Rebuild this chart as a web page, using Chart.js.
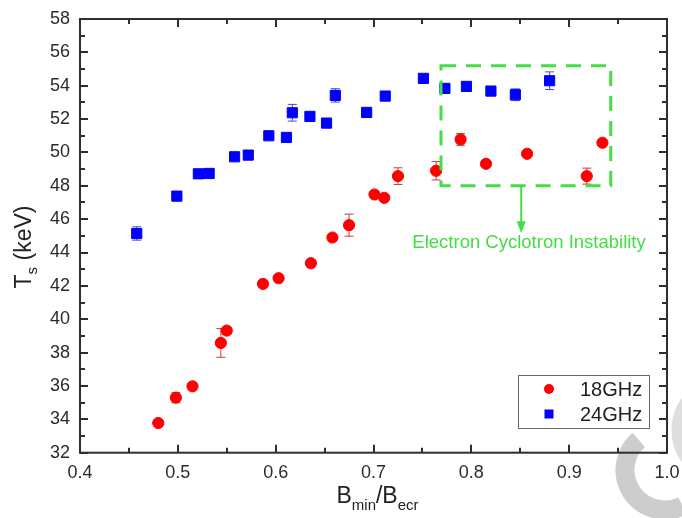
<!DOCTYPE html>
<html>
<head>
<meta charset="utf-8">
<script src="https://cdn.jsdelivr.net/npm/chart.js@4.4.0/dist/chart.umd.min.js"></script>
<style>
  html, body { margin: 0; padding: 0; background: #ffffff; }
  #wrap { width: 682px; height: 518px; }
</style>
</head>
<body>
<div id="wrap"><canvas id="ts_chart" width="682" height="518"></canvas></div>
<script>
// 18GHz series (red circles)
const red_x = [0.480, 0.498, 0.515, 0.544, 0.550, 0.587, 0.603, 0.636, 0.658, 0.675, 0.701, 0.711, 0.725, 0.764, 0.789, 0.815, 0.857, 0.918, 0.934];
const red_y = [33.78, 35.30, 35.98, 38.58, 39.32, 42.12, 42.46, 43.36, 44.90, 45.64, 47.48, 47.28, 48.58, 48.90, 50.78, 49.32, 49.92, 48.58, 50.58];
const red_err = [0.10, 0.30, 0.20, 0.86, 0.22, 0.10, 0.10, 0.10, 0.10, 0.66, 0.15, 0.10, 0.50, 0.55, 0.35, 0.10, 0.10, 0.48, 0.10];

// 24GHz series (blue squares)
const blue_x = [0.458, 0.499, 0.521, 0.532, 0.558, 0.572, 0.593, 0.611, 0.617, 0.635, 0.652, 0.661, 0.693, 0.712, 0.751, 0.773, 0.795, 0.820, 0.845, 0.880];
const blue_y = [45.14, 47.38, 48.72, 48.74, 49.74, 49.84, 51.00, 50.90, 52.38, 52.16, 51.76, 53.42, 52.40, 53.38, 54.44, 53.84, 53.96, 53.68, 53.46, 54.30];
const blue_err = [0.40, 0.10, 0.10, 0.10, 0.20, 0.15, 0.10, 0.10, 0.50, 0.10, 0.10, 0.40, 0.10, 0.10, 0.20, 0.10, 0.10, 0.15, 0.35, 0.53];

const series_labels = ['18GHz', '24GHz'];

// axis ranges
const x_range = [0.4, 1.0];
const x_step = 0.1;
const y_range = [32, 58];
const y_step = 2;

// annotation in data units: box [x0, x1, y0, y1], arrow [x, y_from, y_to], text [x, y]
const box_limits = [0.769, 0.9425, 48.0, 55.2];
const arrow_line = [0.851, 48.0, 45.15];
const note_pos = [0.859, 44.3];
const note_text = 'Electron Cyclotron Instability';

const palette = {
    red: '#ff0000',
    blue: '#0000ff',
    red_bar: '#cc3a3a',
    blue_bar: '#4a4ac4',
    green: '#44dd44',
    frame: '#2e2e2e',
    text: '#2b2b2b',
};

const font_name = '"Liberation Sans", Arial, sans-serif';

function make_points(xs, ys) {
    return xs.map(function (x, idx) {
        return { x: x, y: ys[idx] };
    });
}

const error_plugin = {
    id: 'error_bars',
    beforeDatasetsDraw(chart) {
        const ctx = chart.ctx;
        const xs = chart.scales.x;
        const ys = chart.scales.y;
        const sets = [
            [red_x, red_y, red_err, palette.red_bar],
            [blue_x, blue_y, blue_err, palette.blue_bar],
        ];
        ctx.save();
        ctx.lineWidth = 1;
        sets.forEach(function (s) {
            ctx.strokeStyle = s[3];
            s[0].forEach(function (x, idx) {
                const px = xs.getPixelForValue(x);
                const top = ys.getPixelForValue(s[1][idx] + s[2][idx]);
                const bot = ys.getPixelForValue(s[1][idx] - s[2][idx]);
                ctx.beginPath();
                ctx.moveTo(px, top);
                ctx.lineTo(px, bot);
                ctx.moveTo(px - 4.5, top);
                ctx.lineTo(px + 4.5, top);
                ctx.moveTo(px - 4.5, bot);
                ctx.lineTo(px + 4.5, bot);
                ctx.stroke();
            });
        });
        ctx.restore();
    },
};

const frame_plugin = {
    id: 'frame_ticks',
    beforeDraw(chart) {
        // faint watermark swoosh in the corner
        const ctx = chart.ctx;
        ctx.save();
        ctx.strokeStyle = '#cdcdcd';
        ctx.lineWidth = 19;
        ctx.beginPath();
        ctx.arc(665, 470, 40, 64 * Math.PI / 180, 229 * Math.PI / 180);
        ctx.stroke();
        ctx.strokeStyle = '#dedede';
        ctx.lineWidth = 11;
        ctx.beginPath();
        ctx.arc(727, 430, 50, 140 * Math.PI / 180, 225 * Math.PI / 180);
        ctx.stroke();
        ctx.restore();
    },
    afterDatasetsDraw(chart) {
        const ctx = chart.ctx;
        const area = chart.chartArea;
        const xs = chart.scales.x;
        const ys = chart.scales.y;
        ctx.save();
        ctx.strokeStyle = palette.frame;
        ctx.lineWidth = 2;
        ctx.strokeRect(area.left, area.top, area.right - area.left, area.bottom - area.top);

        ctx.beginPath();
        for (let v = x_range[0]; v <= x_range[1] + 1e-9; v += x_step / 2) {
            const major = Math.abs(Math.round(v / x_step) * x_step - v) < 1e-6;
            const len = major ? 8 : 5;
            const px = Math.round(xs.getPixelForValue(v));
            ctx.moveTo(px, area.bottom);
            ctx.lineTo(px, area.bottom - len);
            ctx.moveTo(px, area.top);
            ctx.lineTo(px, area.top + len);
        }
        for (let v = y_range[0]; v <= y_range[1] + 1e-9; v += y_step / 2) {
            const len = (v % y_step === 0) ? 8 : 5;
            const py = Math.round(ys.getPixelForValue(v));
            ctx.moveTo(area.left, py);
            ctx.lineTo(area.left + len, py);
            ctx.moveTo(area.right, py);
            ctx.lineTo(area.right - len, py);
        }
        ctx.stroke();
        ctx.restore();
    },
    afterDraw(chart) {
        const ctx = chart.ctx;
        const area = chart.chartArea;
        const xs = chart.scales.x;
        const ys = chart.scales.y;

        // green dashed box, arrow and note
        ctx.save();
        ctx.strokeStyle = palette.green;
        ctx.fillStyle = palette.green;
        ctx.lineWidth = 3;
        ctx.setLineDash([15, 10]);
        const bx0 = xs.getPixelForValue(box_limits[0]);
        const bx1 = xs.getPixelForValue(box_limits[1]);
        const by0 = ys.getPixelForValue(box_limits[3]);
        const by1 = ys.getPixelForValue(box_limits[2]);
        ctx.strokeRect(bx0, by0, bx1 - bx0, by1 - by0);
        ctx.setLineDash([]);
        const ax = xs.getPixelForValue(arrow_line[0]);
        const ay0 = ys.getPixelForValue(arrow_line[1]);
        const ay1 = ys.getPixelForValue(arrow_line[2]);
        ctx.lineWidth = 2;
        ctx.beginPath();
        ctx.moveTo(ax, ay0);
        ctx.lineTo(ax, ay1 - 10);
        ctx.stroke();
        ctx.beginPath();
        ctx.moveTo(ax - 4.5, ay1 - 12);
        ctx.lineTo(ax + 4.5, ay1 - 12);
        ctx.lineTo(ax, ay1);
        ctx.closePath();
        ctx.fill();
        ctx.font = '18.5px ' + font_name;
        ctx.textAlign = 'center';
        ctx.textBaseline = 'alphabetic';
        ctx.fillText(note_text, xs.getPixelForValue(note_pos[0]), ys.getPixelForValue(note_pos[1]));
        ctx.restore();

        // legend box
        ctx.save();
        ctx.strokeStyle = '#666666';
        ctx.lineWidth = 1;
        ctx.strokeRect(518.5, 375.5, 131, 53);
        const rows = [389, 414];
        ctx.font = '20px ' + font_name;
        ctx.textAlign = 'left';
        ctx.textBaseline = 'middle';
        chart.data.datasets.forEach(function (ds, idx) {
            ctx.fillStyle = ds.backgroundColor;
            if (ds.pointStyle === 'rect') {
                ctx.fillRect(549 - 4.5, rows[idx] - 4.5, 9, 9);
            } else {
                ctx.beginPath();
                ctx.arc(549, rows[idx], 5, 0, Math.PI * 2);
                ctx.fill();
            }
            ctx.fillStyle = '#222222';
            ctx.fillText(series_labels[idx], 580, rows[idx] + 1);
        });
        ctx.restore();

        // axis titles with subscripts
        ctx.save();
        ctx.fillStyle = '#222222';
        ctx.textBaseline = 'alphabetic';
        ctx.textAlign = 'left';
        const main_font = '23px ' + font_name;
        const sub_font = '15px ' + font_name;

        ctx.translate(31, 247);
        ctx.rotate(-Math.PI / 2);
        ctx.font = main_font;
        const w_t = ctx.measureText('T').width;
        const w_rest = ctx.measureText(' (keV)').width;
        ctx.font = sub_font;
        const w_s = ctx.measureText('s').width;
        let cx = -(w_t + w_s + w_rest) / 2;
        ctx.font = main_font;
        ctx.fillText('T', cx, 0);
        cx += w_t;
        ctx.font = sub_font;
        ctx.fillText('s', cx, 6);
        cx += w_s;
        ctx.font = main_font;
        ctx.fillText(' (keV)', cx, 0);
        ctx.restore();

        ctx.save();
        ctx.fillStyle = '#222222';
        ctx.textBaseline = 'alphabetic';
        ctx.textAlign = 'left';
        const parts = [['B', main_font, 0], ['min', sub_font, 7], ['/B', main_font, 0], ['ecr', sub_font, 7]];
        let total = 0;
        parts.forEach(function (p) {
            ctx.font = p[1];
            total += ctx.measureText(p[0]).width;
        });
        let tx = (area.left + area.right) / 2 - total / 2 + 4;
        parts.forEach(function (p) {
            ctx.font = p[1];
            ctx.fillText(p[0], tx, 503 + p[2]);
            tx += ctx.measureText(p[0]).width;
        });
        ctx.restore();
    },
};

const tick_font = { family: font_name, size: 18 };

new Chart(document.getElementById('ts_chart').getContext('2d'), {
    type: 'scatter',
    data: {
        datasets: [
            {
                label: series_labels[0],
                data: make_points(red_x, red_y),
                pointStyle: 'circle',
                radius: 5.6,
                backgroundColor: palette.red,
                borderColor: palette.red,
                borderWidth: 1,
            },
            {
                label: series_labels[1],
                data: make_points(blue_x, blue_y),
                pointStyle: 'rect',
                radius: 7.2,
                backgroundColor: palette.blue,
                borderColor: palette.blue,
                borderWidth: 1,
            },
        ],
    },
    options: {
        responsive: false,
        animation: false,
        layout: { padding: { left: 0, right: 15, top: 19, bottom: 0 } },
        plugins: {
            legend: { display: false },
            tooltip: { enabled: false },
        },
        scales: {
            x: {
                type: 'linear',
                min: x_range[0],
                max: x_range[1],
                grid: { display: false, drawTicks: false },
                border: { display: false },
                ticks: {
                    stepSize: x_step,
                    autoSkip: false,
                    maxRotation: 0,
                    padding: 10,
                    color: palette.text,
                    font: tick_font,
                    callback: function (v) { return Number(v).toFixed(1); },
                },
                afterFit: function (scale) {
                    scale.height = 65.3;
                    scale.paddingLeft = 0;
                    scale.paddingRight = 0;
                },
            },
            y: {
                type: 'linear',
                min: y_range[0],
                max: y_range[1],
                grid: { display: false, drawTicks: false },
                border: { display: false },
                ticks: {
                    stepSize: y_step,
                    padding: 10,
                    color: palette.text,
                    font: tick_font,
                },
                afterFit: function (scale) {
                    scale.width = 80;
                    scale.paddingTop = 0;
                    scale.paddingBottom = 0;
                },
            },
        },
    },
    plugins: [error_plugin, frame_plugin],
});
</script>
</body>
</html>
